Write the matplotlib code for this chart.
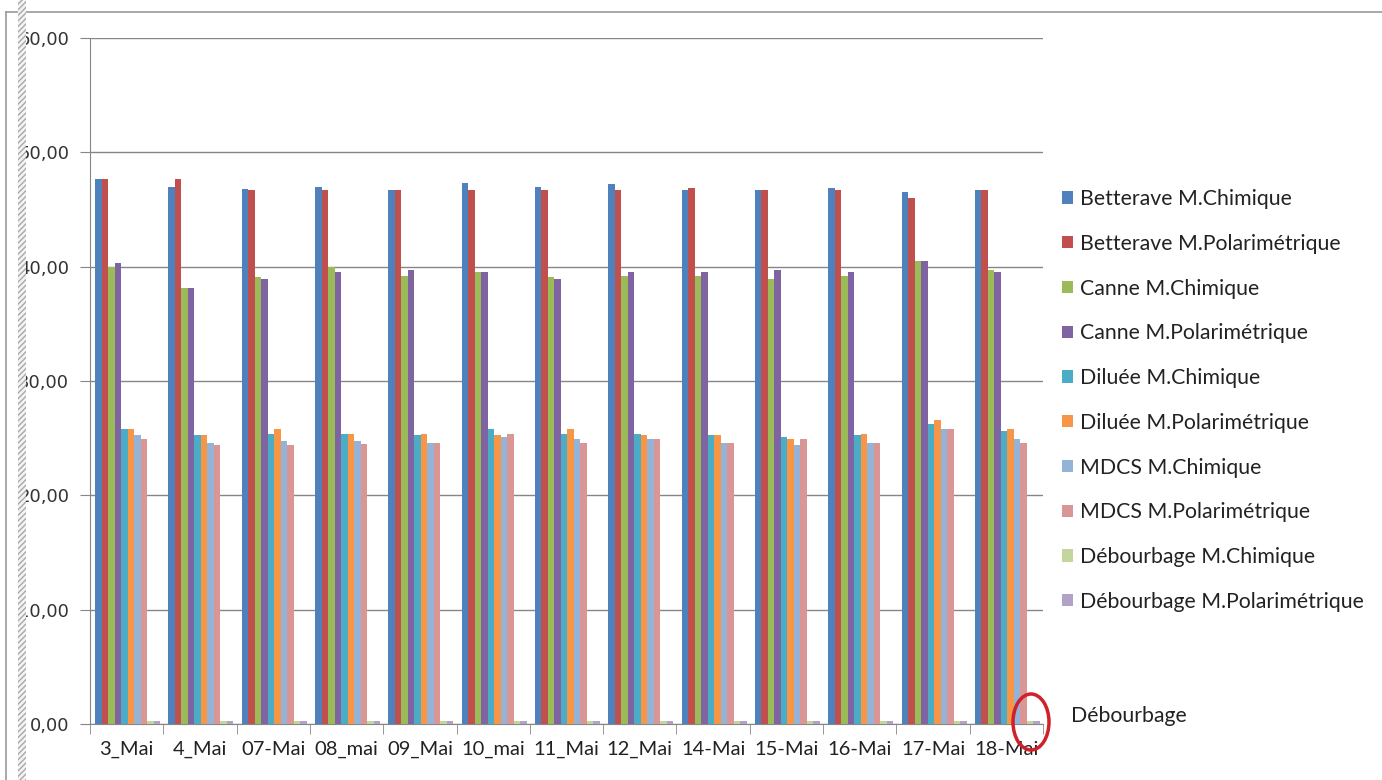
import matplotlib
matplotlib.use("Agg")
import matplotlib.pyplot as plt
import numpy as np
from matplotlib.patches import Rectangle, Ellipse

# dates (x categories)
dates = ['3_Mai', '4_Mai', '07-Mai', '08_mai', '09_Mai', '10_mai', '11_Mai',
         '12_Mai', '14-Mai', '15-Mai', '16-Mai', '17-Mai', '18-Mai']

# values
bet_chim = [47.7, 47.0, 46.8, 47.0, 46.7, 47.35, 47.0, 47.2, 46.7, 46.7, 46.85, 46.5, 46.7]
bet_pol = [47.7, 47.7, 46.7, 46.7, 46.7, 46.7, 46.7, 46.7, 46.85, 46.7, 46.7, 46.0, 46.7]
canne_chim = [40.0, 38.1, 39.1, 40.0, 39.2, 39.5, 39.1, 39.2, 39.2, 38.9, 39.2, 40.5, 39.7]
canne_pol = [40.35, 38.1, 38.9, 39.5, 39.7, 39.5, 38.9, 39.5, 39.5, 39.7, 39.5, 40.5, 39.5]
dil_chim = [25.8, 25.25, 25.4, 25.4, 25.25, 25.8, 25.4, 25.4, 25.25, 25.1, 25.25, 26.2, 25.6]
dil_pol = [25.8, 25.25, 25.8, 25.4, 25.4, 25.25, 25.8, 25.25, 25.25, 24.9, 25.4, 26.55, 25.8]
mdcs_chim = [25.3, 24.55, 24.75, 24.75, 24.6, 25.1, 24.9, 24.9, 24.6, 24.4, 24.6, 25.8, 24.9]
mdcs_pol = [24.9, 24.4, 24.4, 24.45, 24.6, 25.4, 24.6, 24.9, 24.6, 24.9, 24.6, 25.8, 24.6]
deb_chim = [0.3] * 13
deb_pol = [0.3] * 13

series = [bet_chim, bet_pol, canne_chim, canne_pol, dil_chim, dil_pol,
          mdcs_chim, mdcs_pol, deb_chim, deb_pol]
labels = ['Betterave M.Chimique', 'Betterave M.Polarimétrique', 'Canne M.Chimique',
          'Canne M.Polarimétrique', 'Diluée M.Chimique', 'Diluée M.Polarimétrique',
          'MDCS M.Chimique', 'MDCS M.Polarimétrique', 'Débourbage M.Chimique',
          'Débourbage M.Polarimétrique']
colors = ['#4F81BD', '#C0504D', '#9BBB59', '#8064A2', '#4BACC6', '#F79646',
          '#95B3D7', '#D99694', '#C3D69B', '#B3A2C7']

plt.rcParams['hatch.color'] = '#A8A8A8'
plt.rcParams['hatch.linewidth'] = 1.0

W, H = 1382, 780
fig = plt.figure(figsize=(W / 100, H / 100), dpi=100)
ax = fig.add_axes([90 / W, 1 - 724 / H, 953 / W, 686 / H])

x = np.arange(len(dates))
w = 0.0887
start = x - 0.5 + 0.07
for j, (vals, lab, col) in enumerate(zip(series, labels, colors)):
    ax.bar(start + j * w, vals, width=w, align='edge', color=col, label=lab,
           linewidth=0, zorder=3)

grid_col = '#868686'
ax.set_xlim(-0.5, len(dates) - 0.5)
ax.set_ylim(0, 60)
ax.set_yticks(np.arange(0, 61, 10))
ax.set_yticklabels(['%d,00' % v for v in range(0, 61, 10)],
                   fontfamily='DejaVu Sans', fontsize=13, color='#333333')
ax.yaxis.grid(True, color=grid_col, linewidth=1, zorder=0)
ax.tick_params(axis='y', length=7, color=grid_col, pad=8)

ax.set_xticks(x)
ax.set_xticklabels(dates, fontfamily='Lato', fontsize=14.5, color='#222222')
ax.set_xticks(np.arange(-0.5, len(dates)), minor=True)
ax.tick_params(axis='x', which='major', length=0, pad=12)
ax.tick_params(axis='x', which='minor', length=7, color=grid_col)

for s in ['top', 'right']:
    ax.spines[s].set_visible(False)
for s in ['left', 'bottom']:
    ax.spines[s].set_color(grid_col)

leg = ax.legend(loc='upper left', bbox_to_anchor=(1062 / W, 1 - 189 / H),
                bbox_transform=fig.transFigure, frameon=False,
                prop={'family': 'Lato', 'size': 15.3},
                handlelength=0.5, handleheight=0.5, handletextpad=0.35,
                labelspacing=1.165, borderaxespad=0, borderpad=0)
for t in leg.get_texts():
    t.set_color('#222222')

fig.text(1071 / W, 1 - 716 / H, 'Débourbage', fontfamily='Lato', fontsize=15.3,
         va='center', ha='left', color='#222222')

# red circle around the tiny Débourbage bars
fig.patches.append(Ellipse((1031 / W, 1 - 722 / H), 36 / W, 56 / H,
                           transform=fig.transFigure, fill=False,
                           edgecolor='#D0202A', linewidth=2.5, zorder=10))

# page frame and hatched margin strip
fig.add_artist(plt.Line2D([6 / W, 1], [1 - 12 / H, 1 - 12 / H],
                          transform=fig.transFigure, color='#9A9A9A', lw=1.2))
fig.add_artist(plt.Line2D([6 / W, 6 / W], [0, 1 - 12 / H],
                          transform=fig.transFigure, color='#9A9A9A', lw=1.2))
fig.patches.append(Rectangle((18 / W, 0), 8 / W, 1, transform=fig.transFigure,
                             facecolor='#F4F4F4', edgecolor='#A8A8A8', linewidth=0,
                             hatch='//////', zorder=20))

fig.savefig('out.png', dpi=100)
